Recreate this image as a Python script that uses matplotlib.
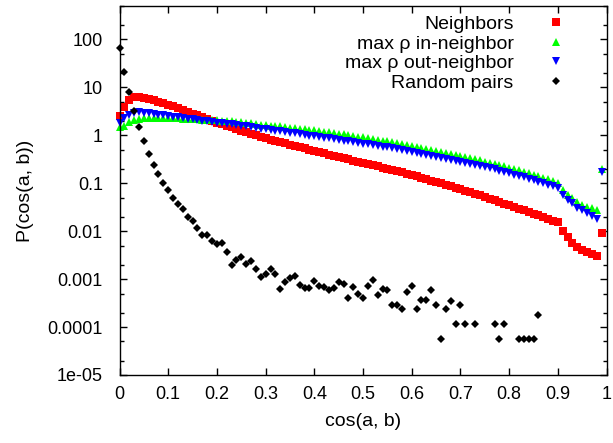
import numpy as np
import matplotlib
matplotlib.use('Agg')
from matplotlib import pyplot as plt
from matplotlib.ticker import FixedLocator, FixedFormatter, NullFormatter

# DATA
# bins of cos(a, b), step 0.01
cos_bins = [round(i * 0.01, 2) for i in range(100)]

neighbors = [2.57, 3.87, 5.42, 6.27, 6.27, 5.97, 5.69, 5.42, 5.05, 4.69,
             4.37, 4.00, 3.67, 3.38, 3.10, 2.84, 2.61, 2.39, 2.20, 2.02,
             1.85, 1.71, 1.59, 1.46, 1.355, 1.25, 1.16, 1.08, 1.00, 0.935,
             0.87, 0.817, 0.771, 0.724, 0.680, 0.639, 0.603, 0.566, 0.532, 0.500,
             0.472, 0.445, 0.420, 0.398, 0.376, 0.355, 0.335, 0.316, 0.298, 0.283,
             0.267, 0.252, 0.238, 0.225, 0.212, 0.201, 0.190, 0.179, 0.169, 0.159,
             0.149, 0.139, 0.130, 0.122, 0.114, 0.106, 0.099, 0.0926, 0.0861, 0.0801,
             0.0745, 0.0693, 0.0645, 0.060, 0.0556, 0.0514, 0.0476, 0.0441, 0.0408, 0.0378,
             0.035, 0.0322, 0.0297, 0.0274, 0.0252, 0.0232, 0.0214, 0.0197, 0.0181, 0.0166,
             0.0152, 0.0102, 0.0074, 0.0058, 0.0047, 0.0041, 0.0037, 0.0033, 0.0030, 0.0090]

in_neighbor = [1.48, 1.59, 1.88, 2.07, 2.22, 2.28, 2.30, 2.31, 2.31, 2.30,
               2.29, 2.27, 2.25, 2.22, 2.20, 2.18, 2.16, 2.14, 2.11, 2.08,
               2.05, 2.02, 1.99, 1.95, 1.91, 1.86, 1.82, 1.77, 1.73, 1.68,
               1.64, 1.60, 1.57, 1.53, 1.48, 1.45, 1.41, 1.38, 1.34, 1.31,
               1.27, 1.24, 1.20, 1.16, 1.12, 1.09, 1.05, 1.01, 0.98, 0.944,
               0.908, 0.874, 0.841, 0.809, 0.778, 0.745, 0.714, 0.684, 0.655, 0.627,
               0.600, 0.572, 0.548, 0.522, 0.497, 0.474, 0.452, 0.431, 0.408, 0.389,
               0.369, 0.352, 0.334, 0.316, 0.300, 0.284, 0.270, 0.255, 0.240, 0.226,
               0.212, 0.198, 0.185, 0.173, 0.162, 0.151, 0.141, 0.131, 0.122, 0.112,
               0.1035, 0.0728, 0.0572, 0.0488, 0.0414, 0.0353, 0.0326, 0.0306, 0.0278, 0.200]

out_neighbor = [1.81, 2.28, 2.70, 2.97, 3.04, 2.97, 2.90, 2.80, 2.70, 2.61,
                2.51, 2.44, 2.36, 2.29, 2.21, 2.15, 2.08, 2.02, 1.95, 1.90,
                1.84, 1.79, 1.74, 1.69, 1.63, 1.58, 1.53, 1.48, 1.43, 1.38,
                1.34, 1.29, 1.25, 1.21, 1.17, 1.13, 1.10, 1.06, 1.02, 0.99,
                0.958, 0.926, 0.891, 0.861, 0.833, 0.801, 0.775, 0.745, 0.721, 0.693,
                0.670, 0.645, 0.624, 0.600, 0.578, 0.558, 0.537, 0.519, 0.500, 0.479,
                0.456, 0.437, 0.416, 0.397, 0.378, 0.360, 0.343, 0.326, 0.310, 0.294,
                0.280, 0.266, 0.253, 0.240, 0.228, 0.216, 0.205, 0.194, 0.184, 0.172,
                0.162, 0.151, 0.1415, 0.132, 0.1236, 0.1156, 0.1075, 0.100, 0.0926, 0.0857,
                0.0789, 0.0572, 0.045, 0.0383, 0.0309, 0.0274, 0.0237, 0.0208, 0.0180, 0.169]

# random pairs (empty bins left out)
random_x = [0.00, 0.01, 0.02, 0.03, 0.04, 0.05, 0.06, 0.07, 0.08, 0.09,
            0.10, 0.11, 0.12, 0.13, 0.14, 0.15, 0.16, 0.17, 0.18, 0.19,
            0.20, 0.21, 0.22, 0.23, 0.24, 0.25, 0.26, 0.27, 0.28, 0.29,
            0.30, 0.31, 0.32, 0.33, 0.34, 0.35, 0.36, 0.37, 0.38, 0.39,
            0.40, 0.41, 0.42, 0.43, 0.44, 0.45, 0.46, 0.47, 0.48, 0.49,
            0.50, 0.51, 0.52, 0.53, 0.54, 0.55, 0.56, 0.57, 0.58, 0.59,
            0.60, 0.61, 0.62, 0.63, 0.64, 0.65, 0.66, 0.67, 0.68, 0.69,
            0.70, 0.71, 0.73, 0.77, 0.78, 0.79, 0.82, 0.83, 0.84, 0.85, 0.86]
random_y = [67, 20.7, 7.9, 3.27, 1.49, 0.745, 0.412, 0.246, 0.157, 0.102,
            0.0728, 0.0483, 0.0371, 0.0284, 0.0198, 0.0163, 0.0117, 0.00833, 0.00833, 0.00615,
            0.00553, 0.0058, 0.00367, 0.00198, 0.00254, 0.00284, 0.00206, 0.00238, 0.0016, 0.00112,
            0.00127, 0.00164, 0.00126, 0.000627, 0.000879, 0.00106, 0.00119, 0.000749, 0.000639, 0.000639,
            0.0009, 0.000714, 0.00067, 0.000589, 0.000663, 0.000853, 0.000775, 0.000401, 0.00069, 0.000485,
            0.000401, 0.000714, 0.000953, 0.000469, 0.000627, 0.000589, 0.00029, 0.00029, 0.000236, 0.000527,
            0.000714, 0.000236, 0.000364, 0.000364, 0.000589, 0.00029, 5.74e-5, 0.000236, 0.000355, 0.000115,
            0.00029, 0.000115, 0.000115, 0.000115, 5.74e-5, 0.000115, 5.74e-5, 5.74e-5, 5.74e-5, 5.74e-5, 0.000177]

x_ticks = [0, 0.1, 0.2, 0.3, 0.4, 0.5, 0.6, 0.7, 0.8, 0.9, 1]
x_tick_labels = ['0', '0.1', '0.2', '0.3', '0.4', '0.5', '0.6', '0.7', '0.8', '0.9', '1']
y_ticks = [1e-5, 1e-4, 1e-3, 1e-2, 1e-1, 1, 10, 100]
y_tick_labels = ['1e-05', '0.0001', '0.001', '0.01', '0.1', '1', '10', '100']

# PLOTTING
plt.rcParams['font.family'] = ['Liberation Sans', 'DejaVu Sans']

fig = plt.figure(figsize=(6.13, 4.43), dpi=100)
ax = fig.add_axes([0.195, 0.1535, 0.7945, 0.833])

ax.plot(cos_bins, neighbors, 's', color='#ff0000', ms=5.7, mew=0, label='Neighbors', clip_on=False)
ax.plot(cos_bins, in_neighbor, '^', color='#00ff00', ms=5.8, mew=0, label='max ρ in-neighbor', clip_on=False)
ax.plot(cos_bins, out_neighbor, 'v', color='#0000ff', ms=5.8, mew=0, label='max ρ out-neighbor', clip_on=False)
ax.plot(random_x, random_y, 'D', color='black', ms=4.4, mew=0, label='Random pairs', clip_on=False)

ax.set_yscale('log')
ax.set_xlim(0, 1)
ax.set_ylim(1e-5, 500)

ax.xaxis.set_major_locator(FixedLocator(x_ticks))
ax.xaxis.set_major_formatter(FixedFormatter(x_tick_labels))
ax.yaxis.set_major_locator(FixedLocator(y_ticks))
ax.yaxis.set_major_formatter(FixedFormatter(y_tick_labels))
minor_y = [m * 10.0 ** e for e in range(-5, 3) for m in (2, 5)]
ax.yaxis.set_minor_locator(FixedLocator(minor_y))
ax.yaxis.set_minor_formatter(NullFormatter())

ax.tick_params(which='both', direction='in', top=True, right=True, width=1)
ax.tick_params(which='major', length=5, labelsize=13)
ax.tick_params(which='minor', length=3)
ax.tick_params(axis='x', pad=8)
ax.tick_params(axis='y', pad=12)
for s in ax.spines.values():
    s.set_linewidth(1)

ax.set_xlabel('cos(a, b)', fontsize=14, labelpad=7)
ax.set_ylabel('P(cos(a, b))', fontsize=14, labelpad=10)

# legend, text right-justified like gnuplot key
leg = ax.legend(loc='upper right', bbox_to_anchor=(0.937, 0.974), frameon=False,
                markerfirst=False, fontsize=14, handlelength=2, handletextpad=1.2,
                labelspacing=0.095, borderpad=0, borderaxespad=0, numpoints=1)
for col in leg._legend_handle_box.get_children():
    col.align = 'right'

fig.savefig('out.png', dpi=100)
